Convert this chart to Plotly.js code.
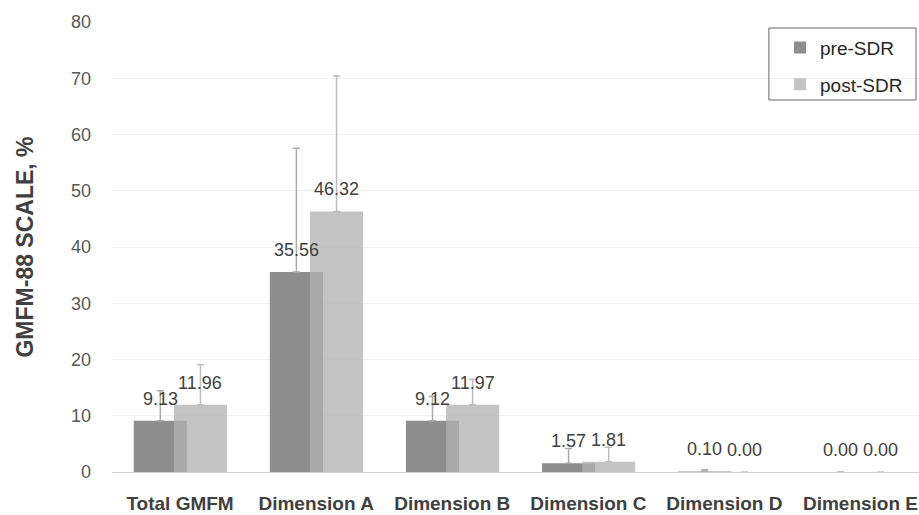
<!DOCTYPE html>
<html>
<head>
<meta charset="utf-8">
<script src="https://cdn.plot.ly/plotly-3.0.1.min.js"></script>
<style>html,body{margin:0;padding:0;background:#fff;}#chart{width:919px;height:515px;}</style>
</head>
<body>
<div id="chart"></div>
<script>
var categories = ["Total GMFM", "Dimension A", "Dimension B", "Dimension C", "Dimension D", "Dimension E"];
var preValues  = [9.13, 35.56, 9.12, 1.57, 0.10, 0.00];
var postValues = [11.96, 46.32, 11.97, 1.81, 0.00, 0.00];
var preErrors  = [5.3, 22.0, 4.3, 2.6, 0.3, 0];
var postErrors = [7.1, 24.1, 4.5, 2.6, 0, 0];
var seriesNames = ["pre-SDR", "post-SDR"];
var yTicks = [0, 10, 20, 30, 40, 50, 60, 70, 80];

var barWidth = 0.39;
var preOffset = -0.34;
var postOffset = -0.045;

var preTrace = {
  type: "bar", name: seriesNames[0], x: categories, y: preValues,
  offset: preOffset, width: barWidth, legendgroup: "a",
  marker: {color: "#8e8e8e"},
  error_y: {type: "data", symmetric: false, array: preErrors, arrayminus: preValues.map(function(){return 0;}),
            color: "#ababab", thickness: 1.5, width: 3.5},
  hoverinfo: "none"
};
var postTrace = {
  type: "bar", name: seriesNames[1], x: categories, y: postValues,
  offset: postOffset, width: barWidth, legendgroup: "b",
  marker: {color: "rgba(178,178,178,0.76)"},
  error_y: {type: "data", symmetric: false, array: postErrors, arrayminus: postValues.map(function(){return 0;}),
            color: "#bdbdbd", thickness: 1.5, width: 3.5},
  hoverinfo: "none"
};

var annotations = [];
function addLabels(vals, off) {
  vals.forEach(function(v, i) {
    annotations.push({
      x: i + off + barWidth / 2, y: v, xref: "x", yref: "y",
      text: v.toFixed(2), showarrow: false, yanchor: "middle", xanchor: "center", yshift: 22,
      font: {family: "Liberation Sans, Arial, sans-serif", size: 18, color: "#404040"}
    });
  });
}
addLabels(preValues, preOffset);
addLabels(postValues, postOffset);

var layout = {
  width: 919, height: 515,
  margin: {l: 112, r: 0, t: 22, b: 43},
  paper_bgcolor: "#ffffff", plot_bgcolor: "#ffffff",
  barmode: "overlay",
  showlegend: true,
  legend: {
    x: 0.8278, xanchor: "left", y: 0.985, yanchor: "top",
    borderwidth: 0, bgcolor: "rgba(0,0,0,0)",
    font: {family: "Liberation Sans, Arial, sans-serif", size: 19, color: "#262626"},
    traceorder: "grouped", tracegroupgap: 9
  },
  shapes: [{
    type: "rect", xref: "paper", yref: "paper",
    x0: 0.814, x1: 0.9963, y0: 0.8267, y1: 0.9867,
    line: {color: "#666666", width: 1}, fillcolor: "rgba(0,0,0,0)", layer: "above"
  }],
  xaxis: {
    type: "category", range: [-0.5, 5.43],
    showgrid: false, zeroline: false,
    showline: true, linecolor: "#d0d0d0", linewidth: 1,
    ticks: "", ticklabelstandoff: 14,
    tickfont: {family: "Liberation Sans, Arial, sans-serif", size: 19, color: "#404040", weight: "bold"}
  },
  yaxis: {
    range: [0, 80], tickvals: yTicks, ticktext: yTicks.map(String),
    showgrid: true, gridcolor: "#f1f1f1", gridwidth: 1,
    zeroline: false, showline: false, ticks: "", ticklabelstandoff: 20,
    tickfont: {family: "Liberation Sans, Arial, sans-serif", size: 18, color: "#595959"},
    title: {text: "GMFM-88 SCALE, %", standoff: 30,
            font: {family: "Liberation Sans, Arial, sans-serif", size: 23, color: "#404040", weight: "bold"}}
  },
  annotations: annotations
};

Plotly.newPlot("chart", [preTrace, postTrace], layout, {displayModeBar: false, staticPlot: true});
</script>
</body>
</html>
